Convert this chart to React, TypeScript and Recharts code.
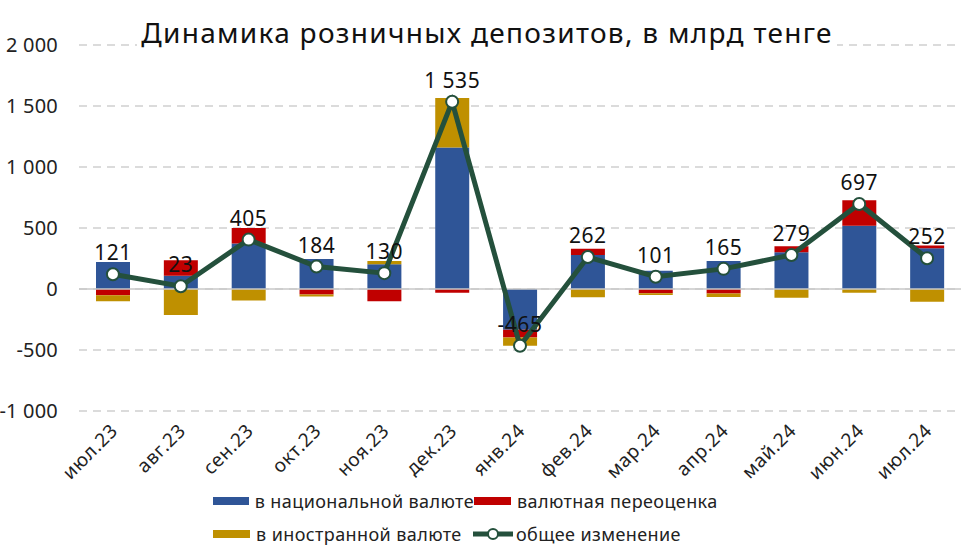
import React from 'react';
import {
  ComposedChart,
  Bar,
  Line,
  XAxis,
  YAxis,
  CartesianGrid,
  ReferenceLine,
  LabelList,
} from 'recharts';

const months = [
  'июл.23', 'авг.23', 'сен.23', 'окт.23', 'ноя.23', 'дек.23', 'янв.24',
  'фев.24', 'мар.24', 'апр.24', 'май.24', 'июн.24', 'июл.24',
];
const national = [221, 108, 372, 245, 203, 1160, -335, 278, 150, 230, 302, 518, 335];
const revaluation = [-52, 128, 128, -45, -100, -30, -63, 52, -34, -37, 49, 209, 22];
const foreign = [-48, -213, -95, -16, 27, 405, -67, -68, -15, -28, -72, -30, -105];
const total = [121, 23, 405, 184, 130, 1535, -465, 262, 101, 165, 279, 697, 252];
const yTicks = [-1000, -500, 0, 500, 1000, 1500, 2000];

const data = months.map((m, i) => ({
  month: m,
  national: national[i],
  revaluation: revaluation[i],
  foreign: foreign[i],
  total: total[i],
}));

const FONT = '"Noto Sans", sans-serif';
const BLUE = '#2F5597';
const RED = '#C00000';
const GOLD = '#BF9000';
const GREEN = '#24503C';

const fmt = (v: number) => {
  const s = Math.abs(v).toString().replace(/\B(?=(\d{3})+(?!\d))/g, ' ');
  return (v < 0 ? '-' : '') + s;
};

const MonthTick = (props: any) => {
  const { x, y, payload } = props;
  const tx = x + 6;
  const ty = y + 13;
  return (
    <text
      x={tx}
      y={ty}
      transform={`rotate(-45, ${tx}, ${ty})`}
      textAnchor="end"
      fontSize={19}
      letterSpacing={0.6}
      fontFamily={FONT}
      fill="#222"
    >
      {payload.value}
    </text>
  );
};

const Swatch = ({ color }: { color: string }) => (
  <span style={{ display: 'inline-block', width: 37, height: 8, background: color, marginRight: 6 }} />
);

const LineIcon = () => (
  <svg width={42} height={14} style={{ marginRight: 2 }}>
    <line x1={1} y1={7} x2={41} y2={7} stroke={GREEN} strokeWidth={5} />
    <circle cx={21} cy={7} r={5} fill="#fff" stroke={GREEN} strokeWidth={2} />
  </svg>
);

const legendRow: React.CSSProperties = {
  display: 'flex',
  alignItems: 'center',
  height: 33,
};

const ChartLegend = () => (
  <div
    style={{
      position: 'absolute',
      left: 213,
      top: 484,
      fontFamily: FONT,
      fontSize: 18,
      letterSpacing: 0.4,
      color: '#222',
      whiteSpace: 'nowrap',
    }}
  >
    <div style={legendRow}>
      <div style={{ width: 261, display: 'flex', alignItems: 'center' }}>
        <Swatch color={BLUE} />в национальной валюте
      </div>
      <div style={{ display: 'flex', alignItems: 'center' }}>
        <Swatch color={RED} />валютная переоценка
      </div>
    </div>
    <div style={legendRow}>
      <div style={{ width: 259, display: 'flex', alignItems: 'center' }}>
        <Swatch color={GOLD} />в иностранной валюте
      </div>
      <div style={{ display: 'flex', alignItems: 'center' }}>
        <LineIcon />общее изменение
      </div>
    </div>
  </div>
);

export default function App() {
  return (
    <div style={{ position: 'absolute', left: 0, top: 0, width: 974, height: 560, background: '#fff' }}>
      <ComposedChart
        width={974}
        height={560}
        data={data}
        stackOffset="sign"
        margin={{ top: 45, right: 13, left: 0, bottom: 74 }}
      >
        <CartesianGrid vertical={false} stroke="#D0D0D0" strokeWidth={1.5} strokeDasharray="8 6" />
        <XAxis
          dataKey="month"
          axisLine={false}
          tickLine={false}
          height={75}
          interval={0}
          tick={<MonthTick />}
        />
        <YAxis
          domain={[-1000, 2000]}
          ticks={yTicks}
          width={79}
          axisLine={false}
          tickLine={false}
          tickFormatter={fmt}
          tickMargin={15}
          tick={{ fontSize: 20, fontFamily: FONT, fill: '#222', letterSpacing: 0.2 }}
        />
        <ReferenceLine y={0} stroke="#C8C8C8" strokeWidth={1.5} />
        <Bar dataKey="national" stackId="a" fill={BLUE} barSize={34} isAnimationActive={false} />
        <Bar dataKey="revaluation" stackId="a" fill={RED} barSize={34} isAnimationActive={false} />
        <Bar dataKey="foreign" stackId="a" fill={GOLD} barSize={34} isAnimationActive={false} />
        <Line
          dataKey="total"
          stroke={GREEN}
          strokeWidth={5}
          dot={{ r: 6, fill: '#fff', stroke: GREEN, strokeWidth: 2 }}
          activeDot={false}
          isAnimationActive={false}
        >
          <LabelList
            dataKey="total"
            position="top"
            offset={14}
            formatter={(v: any) => fmt(Number(v))}
            style={{ fontSize: 21, fontFamily: FONT, fill: '#111', letterSpacing: 0.5 }}
          />
        </Line>
      </ComposedChart>
      <div
        style={{
          position: 'absolute',
          left: 0,
          top: 13,
          width: 974,
          textAlign: 'center',
          fontFamily: FONT,
          fontSize: 28,
          letterSpacing: 1.3,
          color: '#111',
          lineHeight: '38px',
        }}
      >
        <span style={{ background: '#fff', padding: '0 4px' }}>
          Динамика розничных депозитов, в млрд тенге
        </span>
      </div>
      <ChartLegend />
    </div>
  );
}
